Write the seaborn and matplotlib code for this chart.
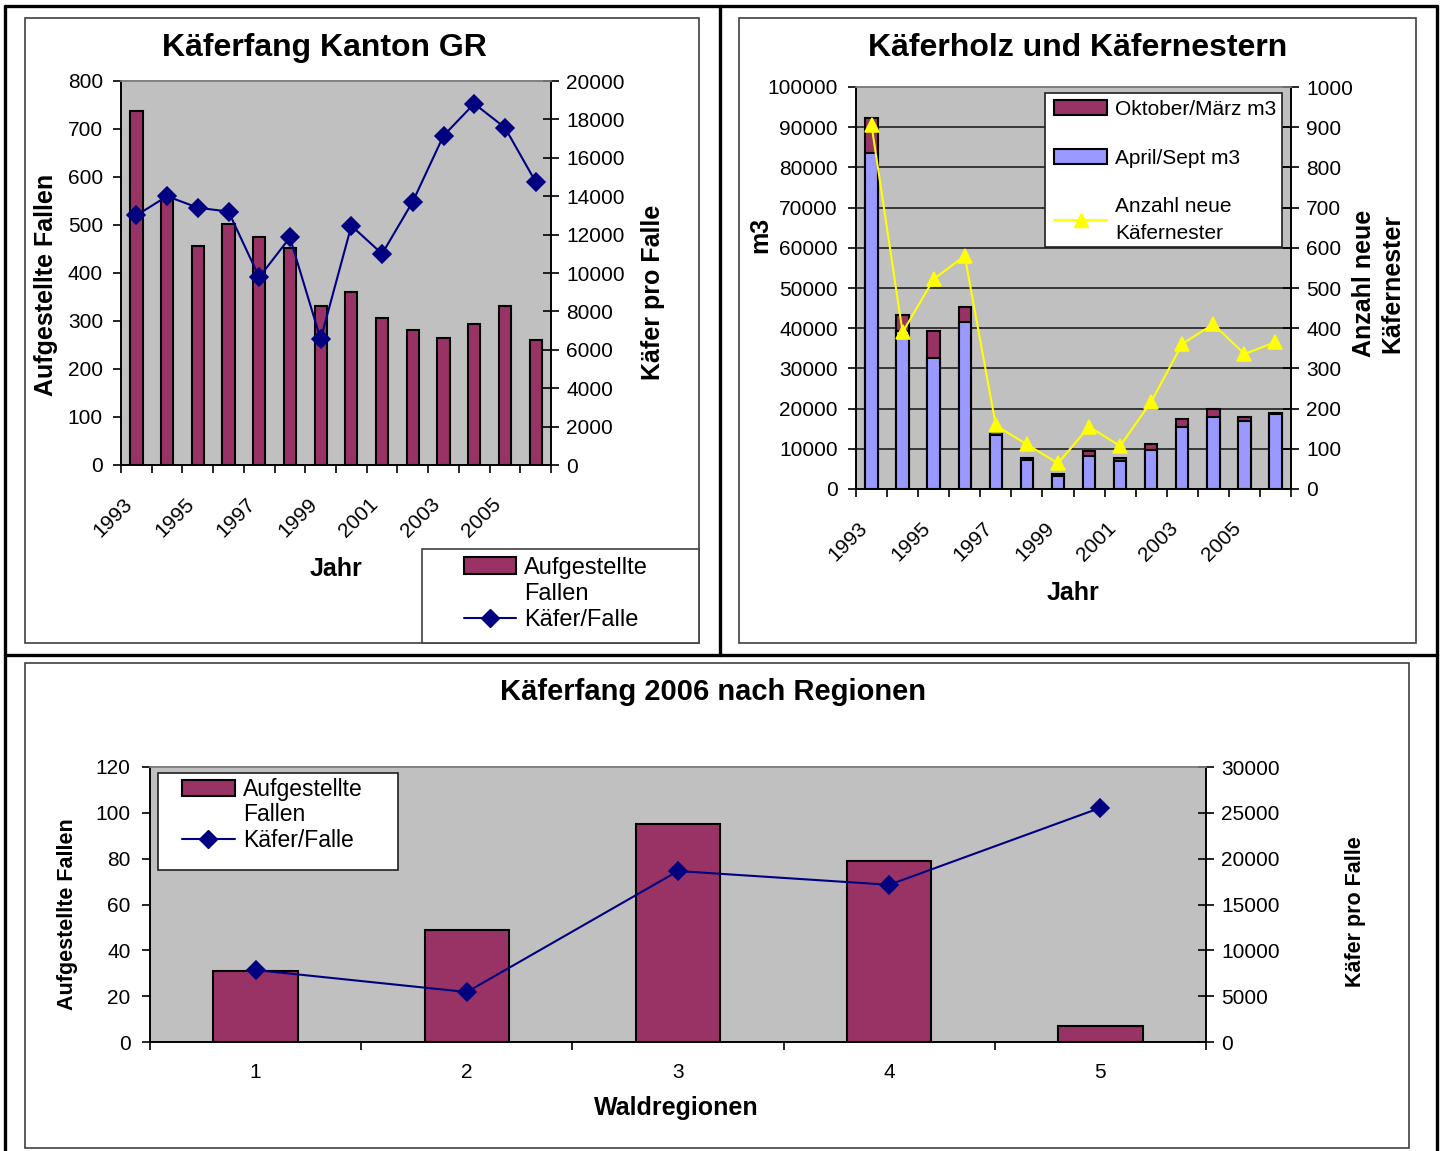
import numpy as np
import pandas as pd
import matplotlib
matplotlib.use('Agg')
import matplotlib.pyplot as plt
import seaborn as sns
from matplotlib.lines import Line2D
from matplotlib.patches import Patch, Rectangle

# --- data ---
years = [str(y) for y in range(1993, 2007)]
fallen = [737, 562, 457, 503, 474, 453, 332, 361, 307, 282, 265, 294, 332, 261]
kaefer_pro_falle = [13000, 14000, 13400, 13200, 9780, 11850, 6550,
                    12460, 11000, 13720, 17150, 18820, 17570, 14750]

april_sept = [83500, 39200, 32700, 41600, 13450, 7250, 3250,
              8300, 6850, 9800, 15300, 17800, 16800, 18750]
oktober_maerz = [8900, 4000, 6500, 3600, 850, 550, 600,
                 1100, 950, 1500, 2000, 2000, 1000, 100]
neue_nester = [905, 390, 522, 580, 158, 111, 64, 155, 107, 217, 361, 410, 336, 365]

regionen = ['1', '2', '3', '4', '5']
fallen_2006 = [31, 49, 95, 79, 7]
kaefer_2006 = [7850, 5450, 18650, 17150, 25550]

# Excel-ish colours
PLUM = '#993366'
NAVY = '#000080'
LILAC = '#9999FF'
YELLOW = '#FFFF00'
GREY = '#C0C0C0'

sns.set_theme(style='white')
plt.rcParams['font.family'] = ['Liberation Sans', 'DejaVu Sans']
plt.rcParams['text.color'] = 'black'
plt.rcParams['axes.labelcolor'] = 'black'
plt.rcParams['xtick.color'] = 'black'
plt.rcParams['ytick.color'] = 'black'

W, H = 1443, 1151
fig = plt.figure(figsize=(W / 100, H / 100), dpi=100)


def fx(x):
    return x / W


def fy(y):
    return 1 - y / H


def box(x0, y0, x1, y1):
    return [fx(x0), fy(y1), (x1 - x0) / W, (y1 - y0) / H]


def ftext(x, y, s, **kw):
    fig.text(fx(x), fy(y), s, ha='center', va='center', color='black', **kw)


def frame_rect(x0, y0, x1, y1, fill=False, lw=1.2, ec='#404040'):
    r = Rectangle((fx(x0), fy(y1)), (x1 - x0) / W, (y1 - y0) / H,
                  transform=fig.transFigure, fill=fill, facecolor='white',
                  edgecolor=ec, linewidth=lw)
    fig.add_artist(r)


def fline(xs, ys, lw=2.4):
    fig.add_artist(Line2D([fx(x) for x in xs], [fy(y) for y in ys],
                          transform=fig.transFigure, color='black', linewidth=lw))


def style_cat_axis(ax, n, label_idx, labels, rotate):
    ax.set_xlim(-0.5, n - 0.5)
    ax.set_xticks(label_idx)
    if rotate:
        ax.set_xticklabels(labels, rotation=45, ha='right', va='top', fontsize=15)
        ax.tick_params(axis='x', which='major', length=0, pad=21)
    else:
        ax.set_xticklabels(labels, fontsize=15)
        ax.tick_params(axis='x', which='major', length=0, pad=15)
    ax.set_xticks(np.arange(-0.5, n, 1), minor=True)
    ax.tick_params(axis='x', which='minor', bottom=True, direction='out',
                   length=6, width=1.2, color='black')
    ax.set_xlabel('')


def style_spines(ax):
    for side in ['left', 'bottom', 'right']:
        ax.spines[side].set_color('black')
        ax.spines[side].set_linewidth(1.2)
    ax.spines['top'].set_color('#808080')
    ax.spines['top'].set_linewidth(1.2)


# ---------------- frames ----------------
frame_rect(25, 18, 699, 643)
frame_rect(739, 18, 1416, 643)
frame_rect(25, 663, 1409, 1148)
fline([5, 5], [6, 1151])
fline([5, 1437], [6, 6])
fline([1437, 1437], [6, 1151])
fline([720, 720], [6, 655])
fline([5, 1437], [655, 655])

# ---------------- panel 1: Käferfang Kanton GR ----------------
ax1 = fig.add_axes(box(121, 81, 551, 465))
ax1.set_facecolor(GREY)
sns.barplot(x=years, y=fallen, ax=ax1, color=PLUM, saturation=1,
            edgecolor='black', linewidth=1.5, width=0.4)
ax1.set_ylim(0, 800)
ax1.set_yticks(np.arange(0, 801, 100))
ax1.tick_params(axis='y', labelsize=15, direction='out', length=6, width=1.2,
                left=True, pad=7, color='black')
ax1.set_ylabel('')

ax1b = ax1.twinx()
sns.pointplot(x=years, y=kaefer_pro_falle, ax=ax1b, color=NAVY, markers='D',
              linestyles='-', errorbar=None, markersize=9, linewidth=1.5)
ax1b.set_ylim(0, 20000)
ax1b.set_yticks(np.arange(0, 20001, 2000))
ax1b.tick_params(axis='y', labelsize=15, direction='inout', length=12, width=1.2,
                 right=True, pad=5, color='black')
ax1b.set_ylabel('')
style_cat_axis(ax1, 14, list(range(0, 13, 2)), years[0:13:2], True)
ax1b.set_xlim(-0.5, 13.5)
style_spines(ax1)
style_spines(ax1b)

ftext(324, 48, 'Käferfang Kanton GR', fontsize=23, fontweight='bold')
ftext(46, 285, 'Aufgestellte Fallen', fontsize=18, fontweight='bold', rotation=90)
ftext(653, 292, 'Käfer pro Falle', fontsize=18, fontweight='bold', rotation=90)
ftext(336, 569, 'Jahr', fontsize=18, fontweight='bold')

frame_rect(422, 549, 699, 643, fill=True, ec='#404040')
h_bar = Patch(facecolor=PLUM, edgecolor='black', linewidth=1.5)
h_blank = Line2D([], [], linestyle='none')
h_kf = Line2D([], [], color=NAVY, marker='D', markersize=9, linewidth=1.5)
fig.legend([h_bar, h_blank, h_kf], ['Aufgestellte', 'Fallen', 'Käfer/Falle'],
           loc='upper left', bbox_to_anchor=(fx(464), fy(557)), frameon=False,
           borderpad=0, borderaxespad=0, fontsize=17, handlelength=2.2,
           handletextpad=0.35, labelspacing=0.18)

# ---------------- panel 2: Käferholz und Käfernestern ----------------
ax2 = fig.add_axes(box(856, 87, 1291, 489))
ax2.set_facecolor(GREY)
total_m3 = np.add(april_sept, oktober_maerz)
sns.barplot(x=years, y=total_m3, ax=ax2, color=PLUM, saturation=1,
            edgecolor='black', linewidth=1.5, width=0.4)
sns.barplot(x=years, y=april_sept, ax=ax2, color=LILAC, saturation=1,
            edgecolor='black', linewidth=1.5, width=0.4)
ax2.set_ylim(0, 100000)
ax2.set_yticks(np.arange(0, 100001, 10000))
ax2.yaxis.grid(True, color='#202020', linewidth=1.2)
ax2.set_axisbelow(True)
ax2.tick_params(axis='y', labelsize=15, direction='out', length=6, width=1.2,
                left=True, pad=7, color='black')
ax2.set_ylabel('')

ax2b = ax2.twinx()
sns.pointplot(x=years, y=neue_nester, ax=ax2b, color=YELLOW, markers='^',
              linestyles='-', errorbar=None, markersize=10, linewidth=1.5)
ax2b.set_ylim(0, 1000)
ax2b.set_yticks(np.arange(0, 1001, 100))
ax2b.tick_params(axis='y', labelsize=15, direction='inout', length=12, width=1.2,
                 right=True, pad=5, color='black')
ax2b.set_ylabel('')
style_cat_axis(ax2, 14, list(range(0, 13, 2)), years[0:13:2], True)
ax2b.set_xlim(-0.5, 13.5)
style_spines(ax2)
style_spines(ax2b)

ftext(1078, 48, 'Käferholz und Käfernestern', fontsize=23, fontweight='bold')
ftext(760, 235, 'm3', fontsize=18, fontweight='bold', rotation=90)
ftext(1378, 283, 'Anzahl neue\nKäfernester', fontsize=18, fontweight='bold',
      rotation=90, multialignment='center')
ftext(1073, 593, 'Jahr', fontsize=18, fontweight='bold')

frame_rect(1045, 93, 1282, 247, fill=True, ec='#202020')
h_okt = Patch(facecolor=PLUM, edgecolor='black', linewidth=1.5)
h_apr = Patch(facecolor=LILAC, edgecolor='black', linewidth=1.5)
h_nest = Line2D([], [], color=YELLOW, marker='^', markersize=10, linewidth=1.5)
leg2 = fig.legend([h_okt, h_apr, h_nest],
                  ['Oktober/März m3', 'April/Sept m3', 'Anzahl neue\nKäfernester'],
                  loc='upper left', bbox_to_anchor=(fx(1054), fy(100)), frameon=False,
                  borderpad=0, borderaxespad=0, fontsize=15, handlelength=2.55,
                  handletextpad=0.38, labelspacing=1.42)
for t in leg2.get_texts():
    t.set_linespacing(1.5)

# ---------------- panel 3: Käferfang 2006 nach Regionen ----------------
ax3 = fig.add_axes(box(150, 767, 1206, 1042))
ax3.set_facecolor(GREY)
sns.barplot(x=regionen, y=fallen_2006, ax=ax3, color=PLUM, saturation=1,
            edgecolor='black', linewidth=1.5, width=0.4)
ax3.set_ylim(0, 120)
ax3.set_yticks(np.arange(0, 121, 20))
ax3.tick_params(axis='y', labelsize=15, direction='out', length=6, width=1.2,
                left=True, pad=8, color='black')
ax3.set_ylabel('')

ax3b = ax3.twinx()
sns.pointplot(x=regionen, y=kaefer_2006, ax=ax3b, color=NAVY, markers='D',
              linestyles='-', errorbar=None, markersize=9, linewidth=1.5)
ax3b.set_ylim(0, 30000)
ax3b.set_yticks(np.arange(0, 30001, 5000))
ax3b.tick_params(axis='y', labelsize=15, direction='inout', length=12, width=1.2,
                 right=True, pad=5, color='black')
ax3b.set_ylabel('')
style_cat_axis(ax3, 5, list(range(5)), regionen, False)
ax3b.set_xlim(-0.5, 4.5)
style_spines(ax3)
style_spines(ax3b)

ftext(713, 692, 'Käferfang 2006 nach Regionen', fontsize=21, fontweight='bold')
ftext(68, 914, 'Aufgestellte Fallen', fontsize=15.5, fontweight='bold', rotation=90)
ftext(1356, 912, 'Käfer pro Falle', fontsize=15.5, fontweight='bold', rotation=90)
ftext(676, 1108, 'Waldregionen', fontsize=18, fontweight='bold')

frame_rect(158, 773, 398, 870, fill=True, ec='#202020')
fig.legend([h_bar, h_blank, h_kf], ['Aufgestellte', 'Fallen', 'Käfer/Falle'],
           loc='upper left', bbox_to_anchor=(fx(182), fy(778)), frameon=False,
           borderpad=0, borderaxespad=0, fontsize=16.5, handlelength=2.3,
           handletextpad=0.35, labelspacing=0.1)

fig.savefig('out.png', dpi=100, facecolor='white')
